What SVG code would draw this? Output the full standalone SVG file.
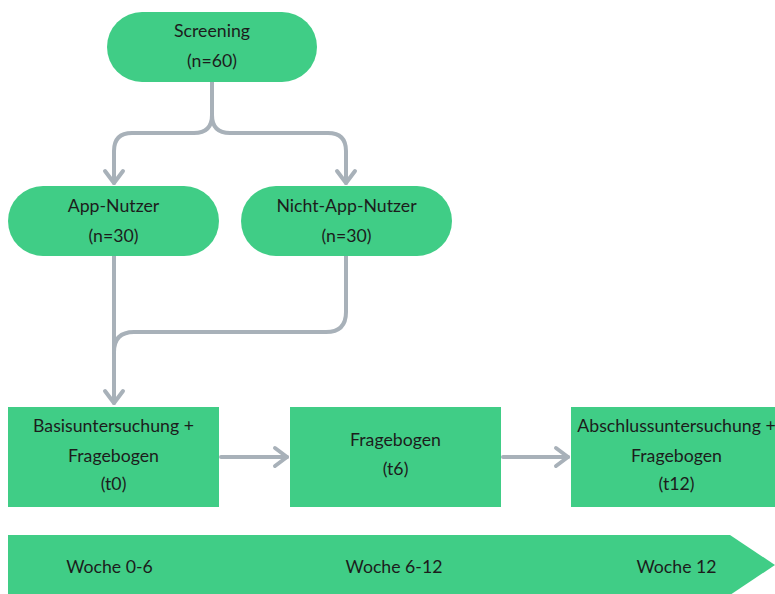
<svg xmlns="http://www.w3.org/2000/svg" width="775" height="594" viewBox="0 0 775 594">
<style>
.n{fill:#40CD86}
.t{font-family:Lato,"Open Sans","Liberation Sans",sans-serif;font-size:17.7px;fill:#1c1c1c;text-anchor:middle}
.c{fill:none;stroke:#A8B1B9;stroke-width:4;stroke-linecap:round;stroke-linejoin:round}
</style>
<defs>
<marker id="ah" markerUnits="userSpaceOnUse" markerWidth="30" markerHeight="30" viewBox="-15 -15 30 30" refX="0" refY="0" orient="auto" overflow="visible">
<path d="M-12,-9 L0,0 L-12,9" fill="none" stroke="#A8B1B9" stroke-width="4" stroke-linecap="round" stroke-linejoin="round"/>
</marker>
</defs>
<rect width="775" height="594" fill="#fff"/>
<g id="connectors">
<path class="c" d="M212,82 V115 Q212,133 194,133 H132 Q114,133 114,151 V183" marker-end="url(#ah)"/>
<path class="c" d="M212,115 Q212,133 230,133 H328 Q346,133 346,151 V183" marker-end="url(#ah)"/>
<path class="c" d="M114,256 V403" marker-end="url(#ah)"/>
<path class="c" d="M346,256 V312 Q346,332 326,332 H134 Q114,332 114,352"/>
<path class="c" d="M221,457 H287" marker-end="url(#ah)"/>
<path class="c" d="M503,457 H568" marker-end="url(#ah)"/>
</g>
<g id="screening">
<rect class="n" x="107" y="12" width="210" height="70" rx="35"/>
<text class="t" x="212" y="37">Screening</text>
<text class="t" x="212" y="67">(n=60)</text>
</g>
<g id="app">
<rect class="n" x="8" y="186" width="211" height="70" rx="35"/>
<text class="t" x="113.5" y="212">App-Nutzer</text>
<text class="t" x="113.5" y="242">(n=30)</text>
</g>
<g id="nichtapp">
<rect class="n" x="241" y="186" width="211" height="70" rx="35"/>
<text class="t" x="346.5" y="212">Nicht-App-Nutzer</text>
<text class="t" x="346.5" y="242">(n=30)</text>
</g>
<g id="basis">
<rect class="n" x="8" y="407" width="211" height="100"/>
<text class="t" x="113.5" y="432">Basisuntersuchung +</text>
<text class="t" x="113.5" y="462">Fragebogen</text>
<text class="t" x="113.5" y="490">(t0)</text>
</g>
<g id="frage">
<rect class="n" x="290" y="407" width="211" height="100"/>
<text class="t" x="395.5" y="446">Fragebogen</text>
<text class="t" x="395.5" y="475">(t6)</text>
</g>
<g id="abschluss">
<rect class="n" x="571" y="407" width="211" height="100"/>
<text class="t" x="676.5" y="432">Abschlussuntersuchung +</text>
<text class="t" x="676.5" y="462">Fragebogen</text>
<text class="t" x="676.5" y="490">(t12)</text>
</g>
<g id="timeline">
<polygon class="n" points="8,535 730,535 775,565 730,595 8,595"/>
<text class="t" x="109.5" y="573">Woche 0-6</text>
<text class="t" x="394" y="573">Woche 6-12</text>
<text class="t" x="676.5" y="573">Woche 12</text>
</g>
</svg>
